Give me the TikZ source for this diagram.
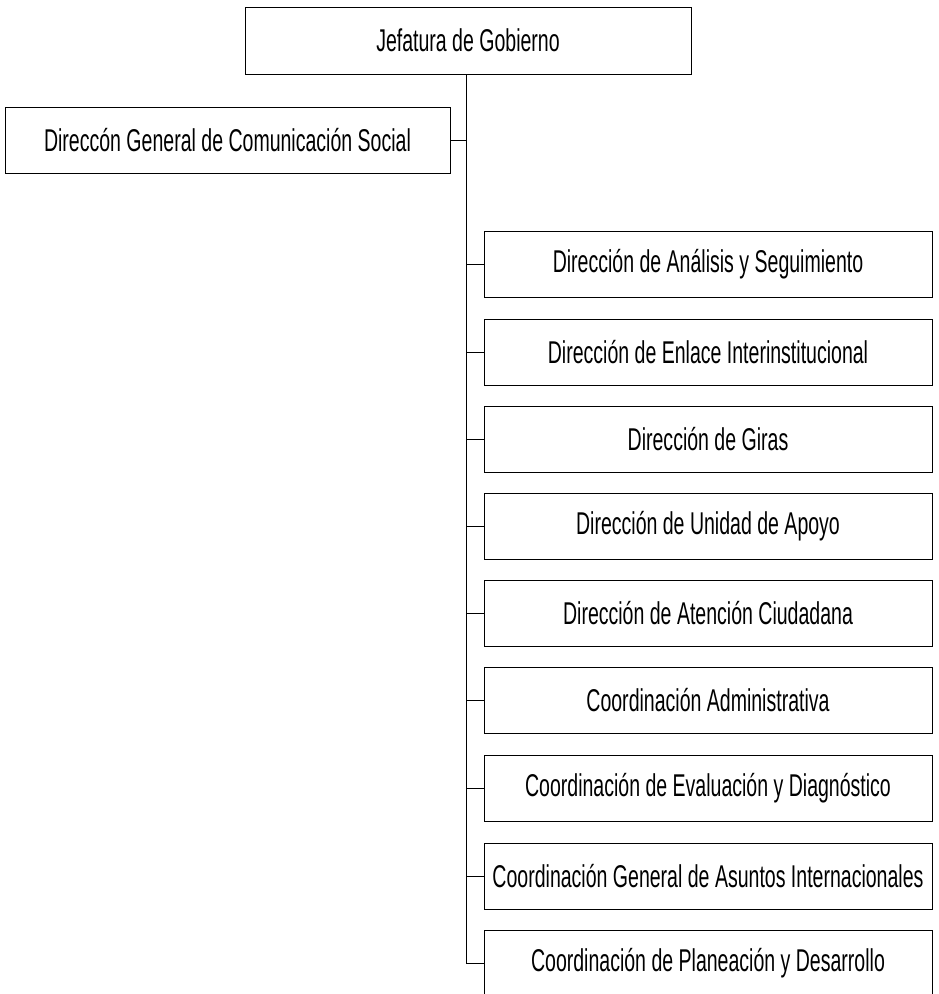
\documentclass[tikz,border=0pt]{standalone}
\usepackage{fontspec}
\setmainfont[FakeStretch=0.62]{Liberation Sans}
\usepackage{tikz}

\tikzset{
  unidad/.style={draw, line width=1pt, inner sep=0pt, minimum width=448pt,
    minimum height=66pt, font=\fontsize{31.5}{34}\selectfont},
  linea/.style={line width=1pt}
}

\begin{document}
\begin{tikzpicture}[x=1pt,y=-1pt]
  \clip (0,0) rectangle (938,994);
  \node[unidad, minimum width=446pt, minimum height=67pt] (jefe) at (468,40.5) {Jefatura de Gobierno};
  \node[unidad, minimum width=445pt] (comsoc) at (227.5,140) {Direccón General de Comunicación Social};
  \node[unidad] (d1) at (708,264.5) {Dirección de Análisis y Seguimiento};
  \node[unidad] (d2) at (708,352) {Dirección de Enlace Interinstitucional};
  \node[unidad] (d3) at (708,439) {Dirección de Giras};
  \node[unidad] (d4) at (708,526) {Dirección de Unidad de Apoyo};
  \node[unidad] (d5) at (708,613) {Dirección de Atención Ciudadana};
  \node[unidad] (d6) at (708,700) {Coordinación Administrativa};
  \node[unidad] (d7) at (708,788) {Coordinación de Evaluación y Diagnóstico};
  \node[unidad] (d8) at (708,876) {Coordinación General de Asuntos Internacionales};
  \node[unidad] (d9) at (708,963) {Coordinación de Planeación y Desarrollo};
  % tronco y ramas
  \coordinate (tronco) at ([xshift=-2pt]jefe.south);
  \draw[linea] (tronco) |- (d9.west);
  \draw[linea] (comsoc.east) -- (comsoc.east -| tronco);
  \foreach \n in {1,...,8}
    \draw[linea] (tronco |- d\n.west) -- (d\n.west);
\end{tikzpicture}
\end{document}
